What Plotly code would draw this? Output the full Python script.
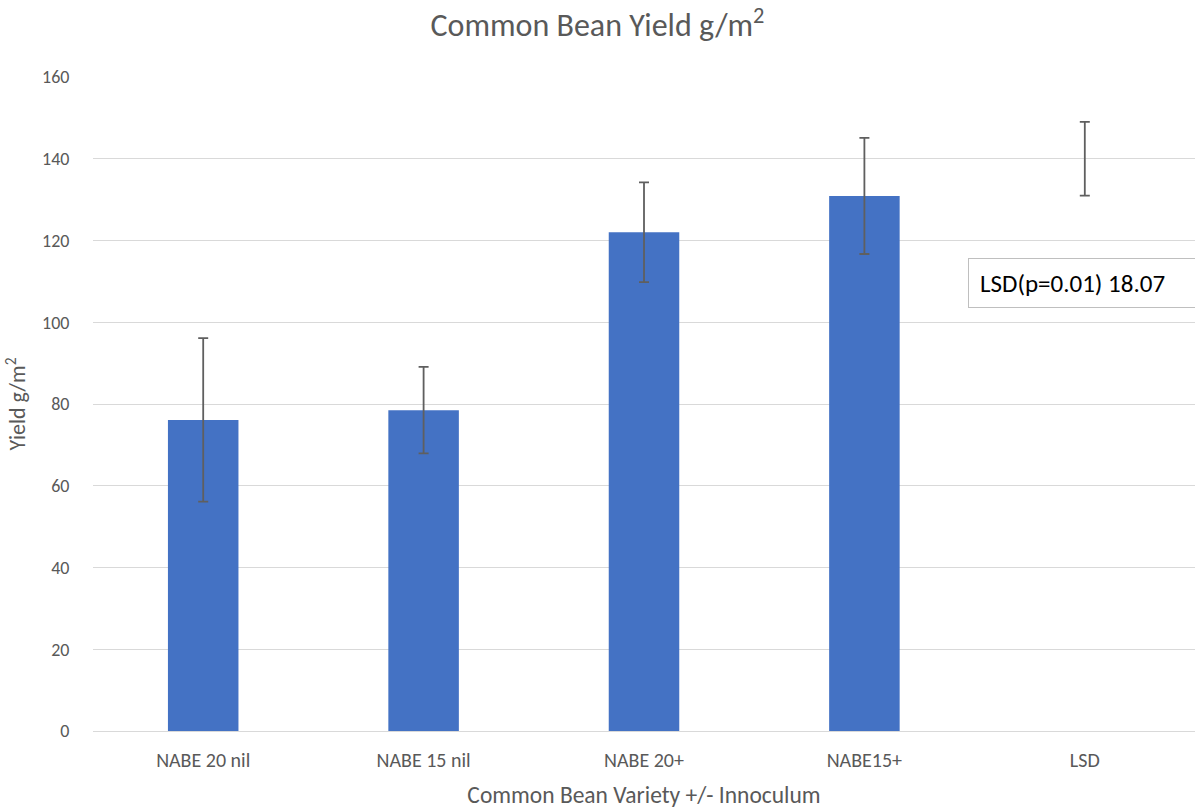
import plotly.graph_objects as go

categories = ["NABE 20 nil", "NABE 15 nil", "NABE 20+", "NABE15+", "LSD"]
yield_values = [76.1, 78.5, 122.0, 130.9, 140.0]
error_values = [20.0, 10.6, 12.2, 14.2, 9.035]
bar_colors = ["#4472C4", "#4472C4", "#4472C4", "#4472C4", "rgba(0,0,0,0)"]
y_ticks = [0, 20, 40, 60, 80, 100, 120, 140, 160]
lsd_label = "LSD(p=0.01) 18.07"

FONT = "Carlito, Calibri, Lato, 'Noto Sans', sans-serif"
GREY = "#595959"

fig = go.Figure()
fig.add_trace(go.Bar(
    x=categories,
    y=yield_values,
    marker=dict(color=bar_colors, line=dict(width=0)),
    width=0.32,
    error_y=dict(type="data", array=error_values, visible=True,
                 color="#5f5f5f", thickness=1.8, width=5),
    hoverinfo="x+y",
))

fig.add_annotation(
    x=0.794, xref="paper", xanchor="left",
    y=109.7, yref="y", yanchor="middle",
    text=lsd_label, showarrow=False, align="left",
    font=dict(family=FONT, size=25, color="#000000"),
    bordercolor="#bfbfbf", borderwidth=1, borderpad=11,
    bgcolor="white", width=270, height=26,
)

fig.update_layout(
    width=1195, height=809,
    margin=dict(l=93, r=0, t=77, b=78),
    paper_bgcolor="white", plot_bgcolor="white",
    showlegend=False,
    font=dict(family=FONT, color=GREY),
    title=dict(text="Common Bean Yield g/m<sup>2</sup>", x=0.5, xanchor="center",
               y=0.969, yanchor="middle",
               font=dict(family=FONT, size=32, color=GREY)),
    xaxis=dict(
        title=dict(text="Common Bean Variety +/- Innoculum", standoff=22,
                   font=dict(family=FONT, size=23.5, color=GREY)),
        tickfont=dict(family=FONT, size=20, color=GREY),
        showgrid=False, showline=True, linecolor="#d9d9d9", linewidth=1,
        ticks="outside", ticklen=11, tickcolor="rgba(0,0,0,0)",
        range=[-0.5, 4.5],
    ),
    yaxis=dict(
        title=dict(text="Yield g/m<sup>2</sup>", standoff=10,
                   font=dict(family=FONT, size=22, color=GREY)),
        range=[0, 160], tickvals=y_ticks,
        tickfont=dict(family=FONT, size=18, color=GREY),
        showgrid=True, gridcolor="#d9d9d9", gridwidth=1,
        zeroline=True, zerolinecolor="#d9d9d9", zerolinewidth=1,
        ticks="outside", ticklen=19, tickcolor="rgba(0,0,0,0)",
        showline=False,
    ),
)

fig.write_html("out.html", config={"displayModeBar": False},
               post_script="document.body.style.margin='0px';")
